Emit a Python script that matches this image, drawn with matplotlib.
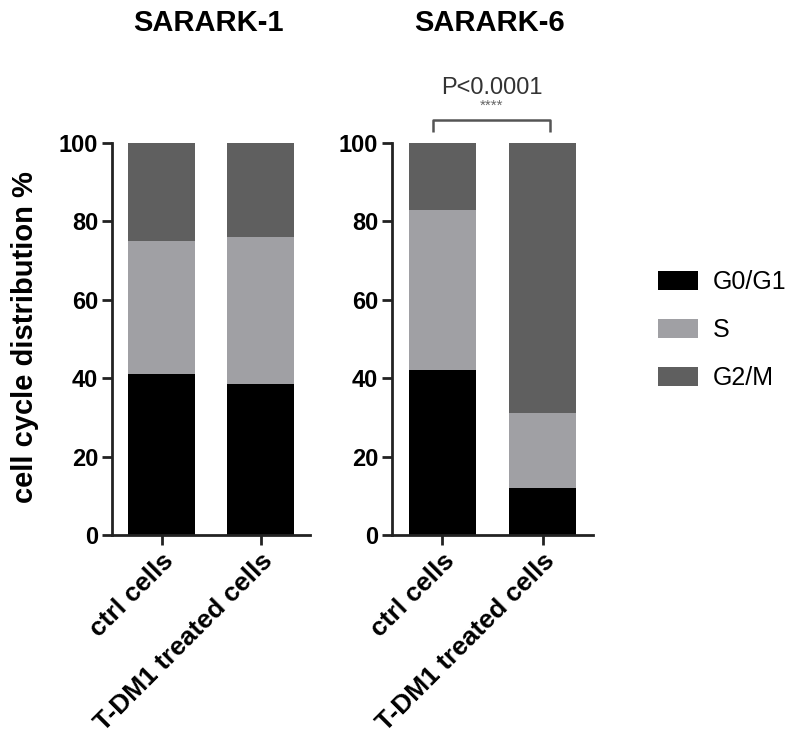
import matplotlib
matplotlib.use("Agg")
import matplotlib.pyplot as plt
import numpy as np

plt.rcParams['font.family'] = ['Liberation Sans', 'DejaVu Sans']

groups = ["ctrl cells", "T-DM1 treated cells"]
panels = ["SARARK-1", "SARARK-6"]
phases = ["G0/G1", "S", "G2/M"]
colors = ["#000000", "#a0a0a4", "#5f5f5f"]

# values (%) per panel: rows = phases, cols = groups
sarark1 = {"G0/G1": [41, 38.5], "S": [34, 37.5], "G2/M": [25, 24]}
sarark6 = {"G0/G1": [42, 12], "S": [41, 19], "G2/M": [17, 69]}
data = [sarark1, sarark6]

W, H = 799, 742
fig = plt.figure(figsize=(W / 100, H / 100), dpi=100)

axes_px = [(112, 310), (392, 593)]
y0, y100 = 535, 143
axs = []
for (xl, xr) in axes_px:
    ax = fig.add_axes([xl / W, 1 - y0 / H, (xr - xl) / W, (y0 - y100) / H])
    axs.append(ax)

spine_c = "#222222"
for ax, title, d, (xl, xr) in zip(axs, panels, data, axes_px):
    x = np.arange(len(groups))
    bottom = np.zeros(len(groups))
    for ph, c in zip(phases, colors):
        vals = np.array(d[ph])
        ax.bar(x, vals, width=0.67, bottom=bottom, color=c, label=ph, linewidth=0)
        bottom += vals
    ax.set_xlim(-0.5, 1.5)
    ax.set_ylim(0, 100)
    ax.set_yticks([0, 20, 40, 60, 80, 100])
    ax.set_xticks(x)
    ax.set_xticklabels(groups, rotation=45, ha='right', rotation_mode='anchor',
                       fontsize=19, fontweight='bold')
    for lab in ax.get_yticklabels():
        lab.set_fontsize(17)
        lab.set_fontweight('bold')
    ax.spines['top'].set_visible(False)
    ax.spines['right'].set_visible(False)
    for s in ['left', 'bottom']:
        ax.spines[s].set_linewidth(2.0)
        ax.spines[s].set_color(spine_c)
    ax.tick_params(axis='both', length=7, width=2.0, color=spine_c, pad=3)
    fig.text(((xl + xr) / 2 - 3) / W, 1 - 23 / H, title, ha='center', va='center',
             fontsize=21, fontweight='bold')

fig.text(25 / W, 1 - 337 / H, "cell cycle distribution %", rotation=90,
         ha='center', va='center', fontsize=21, fontweight='bold')

# significance bracket on right panel
ax = axs[1]
bx0, bx1 = -0.09, 1.07
ax.plot([bx0, bx0, bx1, bx1], [102.8, 105.9, 105.9, 102.8], color="#555555", lw=1.8,
        clip_on=False, solid_capstyle='butt')
ax.text((bx0 + bx1) / 2, 107.6, "****", ha='center', va='bottom', fontsize=11, color="#666666")
ax.text((bx0 + bx1) / 2, 111.3, "P<0.0001", ha='center', va='bottom', fontsize=17, color="#333333")

handles, labels = axs[0].get_legend_handles_labels()
fig.legend(handles, labels, loc='center left', bbox_to_anchor=(648 / W, 1 - 330 / H),
           frameon=False, fontsize=18, handlelength=1.6, handleheight=0.8,
           handletextpad=0.6, labelspacing=0.95, borderaxespad=0)

fig.savefig("out.png", dpi=100)
